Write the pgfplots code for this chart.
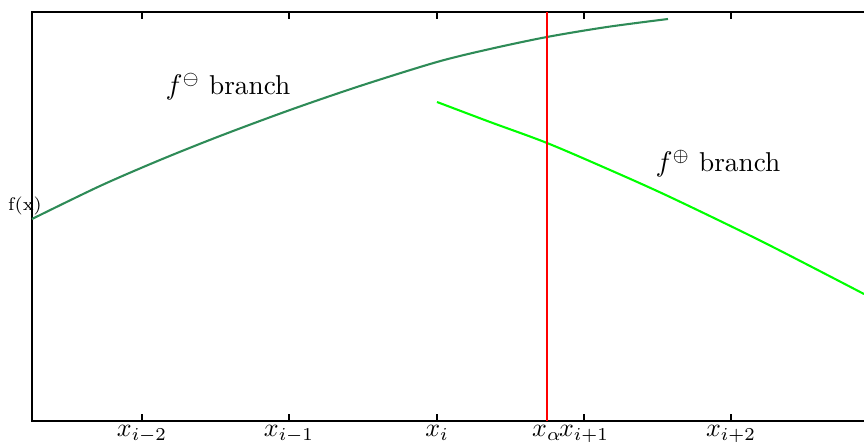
\documentclass[border=0pt]{standalone}
\usepackage{pgfplots}
\pgfplotsset{compat=1.18}
\definecolor{darkbranch}{RGB}{46,139,87}
\definecolor{lightbranch}{RGB}{0,255,0}
\begin{document}
\begin{tikzpicture}
% one data unit = one pixel of the reference (0.385pt)
\begin{axis}[
  scale only axis,
  width=326.48pt, height=157.47pt,
  xmin=32, xmax=880, ymin=20, ymax=429,
  clip=false,
  axis line style={line width=0.6pt},
  ytick=\empty,
  xtick={142,289,437,584,731},
  xticklabels={$x_{i-2}$,$x_{i-1}$,$x_i$,$x_{i+1}$,$x_{i+2}$},
  extra x ticks={547},
  extra x tick labels={$x_\alpha$},
  extra x tick style={major tick length=0pt},
  xticklabel style={yshift=2pt},
  major tick length=2.7pt,
  tick style={black, line width=0.5pt},
  tick align=inside,
  xtick pos=both,
]
% f minus branch
\addplot[darkbranch, line width=0.8pt, smooth] coordinates {
(32,222) (100,255) (160,281) (220,305) (290,331) (360,355) (437,379) (490,392) (547,404) (607,414) (668,422)
};
% f plus branch
\addplot[lightbranch, line width=0.8pt, smooth] coordinates {
(437,339) (490,319) (547,298) (610,271) (670,244) (763,199) (864,147)
};
% x alpha
\addplot[red, line width=1pt] coordinates {(547,20) (547,429)};
\node[anchor=base west, inner sep=0pt, font=\fontsize{10.5}{12}\selectfont] at (axis cs:165,346) {$f^{\ominus}$ branch};
\node[anchor=base west, inner sep=0pt, font=\fontsize{10.5}{12}\selectfont] at (axis cs:655,269) {$f^{\oplus}$ branch};
\node[font=\scriptsize, inner sep=0pt] at (axis cs:25,235) {f(x)};
\coordinate (bl) at (axis cs:0,0);
\coordinate (tr) at (axis cs:864,441);
\end{axis}
\pgfresetboundingbox
\useasboundingbox (bl) rectangle (tr);
\end{tikzpicture}
\end{document}
